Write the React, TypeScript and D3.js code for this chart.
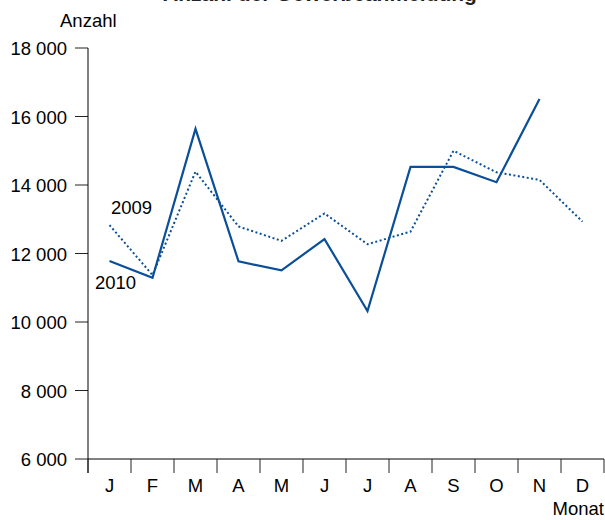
import React from "react";
import * as d3 from "d3";

const months = ["J", "F", "M", "A", "M", "J", "J", "A", "S", "O", "N", "D"];
const values2010 = [11780, 11290, 15640, 11770, 11510, 12420, 10320, 14530, 14530, 14080, 16510, null];
const values2009 = [12830, 11370, 14390, 12790, 12370, 13170, 12270, 12640, 15000, 14370, 14150, 12930];
const yTicks = [6000, 8000, 10000, 12000, 14000, 16000, 18000];

const W = 605, H = 520;
const left = 88, right = 604, top = 48, bottom = 459;
const blue = "#0a4f98";
const font = "'Liberation Sans', Arial, sans-serif";
const fs = 18.5;

export default function App() {
  const idx = months.map((_, i) => i);
  const x = d3.scaleBand<number>().domain(idx).range([left, right]).padding(0);
  const y = d3.scaleLinear().domain([6000, 18000]).range([bottom, top]);
  const cx = (i: number) => (x(i) as number) + x.bandwidth() / 2;
  const line = d3
    .line<number | null>()
    .defined((d) => d != null)
    .x((_, i) => cx(i))
    .y((d) => y(d as number));
  const fmt = (v: number) => d3.format(",")(v).replace(",", " ");

  return (
    <svg width={W} height={H} style={{ position: "absolute", left: 0, top: 0 }} fontFamily={font}>
      <text x={320} y={0.5} textAnchor="middle" fontSize={21} fontWeight="bold" fill="#222">
        Anzahl der Gewerbeanmeldung
      </text>
      <text x={60} y={27} fontSize={fs} fill="#000">Anzahl</text>
      {yTicks.map((t) => (
        <g key={t}>
          <line x1={75} x2={left} y1={y(t)} y2={y(t)} stroke="#222" strokeWidth={1} />
          <text x={67} y={y(t) + 7} textAnchor="end" fontSize={fs} fill="#000">{fmt(t)}</text>
        </g>
      ))}
      <line x1={left} x2={left} y1={top} y2={bottom + 14} stroke="#000" strokeWidth={1} />
      <line x1={left} x2={right} y1={bottom} y2={bottom} stroke="#000" strokeWidth={1} />
      {[...idx, 12].map((i) => {
        const xx = i < 12 ? (x(i) as number) : right;
        return <line key={"t" + i} x1={xx} x2={xx} y1={bottom} y2={bottom + 14} stroke="#222" strokeWidth={1} />;
      })}
      {months.map((m, i) => (
        <text key={"m" + i} x={cx(i)} y={492} textAnchor="middle" fontSize={fs} fill="#000">{m}</text>
      ))}
      <text x={604} y={515} textAnchor="end" fontSize={fs} fill="#000">Monat</text>
      <path d={line(values2009) || ""} fill="none" stroke={blue} strokeWidth={2} strokeDasharray="2,2.5" />
      <path d={line(values2010) || ""} fill="none" stroke={blue} strokeWidth={2.2} strokeLinejoin="miter" />
      <text x={111} y={214} fontSize={fs} fill="#000">2009</text>
      <text x={95} y={289} fontSize={fs} fill="#000">2010</text>
    </svg>
  );
}
